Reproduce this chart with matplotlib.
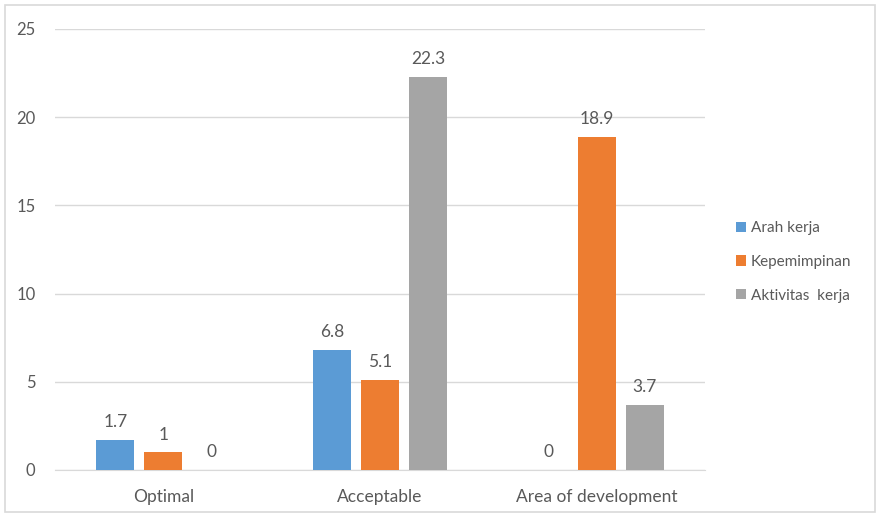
import numpy as np
import matplotlib.pyplot as plt
from matplotlib.patches import Rectangle

categories = ['Optimal', 'Acceptable', 'Area of development']
arah_kerja = [1.7, 6.8, 0]
kepemimpinan = [1, 5.1, 18.9]
aktivitas_kerja = [0, 22.3, 3.7]

series = [
    ('Arah kerja', arah_kerja, '#5b9bd5'),
    ('Kepemimpinan', kepemimpinan, '#ed7d31'),
    ('Aktivitas  kerja', aktivitas_kerja, '#a5a5a5'),
]

plt.rcParams['font.family'] = ['Lato', 'DejaVu Sans']
txt = '#595959'

fig = plt.figure(figsize=(8.8, 5.17), dpi=100)
ax = fig.add_axes([55/880, 1 - 470/517, 650/880, 441/517])

# light frame round the whole chart
fig.patches.append(Rectangle((5/880, 5/517), 870/880, 507/517, transform=fig.transFigure,
                             fill=False, edgecolor='#d9d9d9', linewidth=1.2))

x = np.arange(len(categories))
width = 0.175
step = 0.221

for i, (name, vals, col) in enumerate(series):
    pos = x + (i - 1) * step
    bars = ax.bar(pos, vals, width, color=col, label=name, zorder=3)
    for b, v in zip(bars, vals):
        ax.annotate(f'{v:g}', (b.get_x() + b.get_width() / 2, v),
                    xytext=(0, 7), textcoords='offset points',
                    ha='center', va='bottom', fontsize=12.5, color=txt)

ax.set_xlim(-0.5, 2.5)
ax.set_ylim(0, 25)
ax.set_yticks(range(0, 26, 5))
ax.set_xticks(x)
ax.set_xticklabels(categories, fontsize=12.5)
ax.yaxis.grid(True, color='#d9d9d9', linewidth=1, zorder=0)
ax.tick_params(axis='both', length=0, labelcolor=txt)
ax.tick_params(axis='y', pad=14, labelsize=12)
ax.tick_params(axis='x', pad=14)
for s in ['top', 'right', 'left']:
    ax.spines[s].set_visible(False)
ax.spines['bottom'].set_color('#d9d9d9')

leg = ax.legend(loc='center left', bbox_to_anchor=(1.026, 0.472), frameon=False,
                fontsize=11, handlelength=0.65, handleheight=0.65,
                handletextpad=0.35, labelspacing=1.3)
for t in leg.get_texts():
    t.set_color(txt)

fig.savefig('out.png', dpi=100)
